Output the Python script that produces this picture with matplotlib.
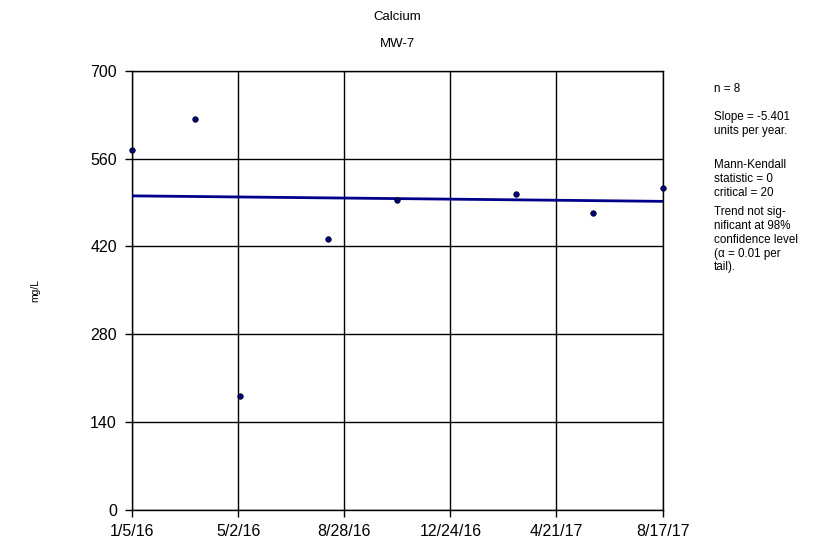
import numpy as np
import pandas as pd
import matplotlib
matplotlib.use("Agg")
import matplotlib.pyplot as plt

# dados
datas = ["2016-01-05", "2016-03-15", "2016-05-04", "2016-08-10",
         "2016-10-26", "2017-03-07", "2017-06-01", "2017-08-17"]
valores = [573.6, 622.6, 181.4, 432.6, 493.3, 503.4, 474.1, 512.9]

ticks_x = ["2016-01-05", "2016-05-02", "2016-08-28", "2016-12-24", "2017-04-21", "2017-08-17"]
rotulos_x = ["1/5/16", "5/2/16", "8/28/16", "12/24/16", "4/21/17", "8/17/17"]
ticks_y = [0, 140, 280, 420, 560, 700]

inclinacao = -5.401   # unidades por ano
intercepto = 500.6    # valor da tendência na primeira data

plt.rcParams["font.family"] = ["Liberation Sans", "DejaVu Sans"]

d = pd.to_datetime(datas)
tx = pd.to_datetime(ticks_x)

fig = plt.figure(figsize=(8.21, 5.42), dpi=100)
ax = fig.add_axes([0.1611, 0.0585, 0.6459, 0.8112])

# linha de tendência (Sen)
anos = (d - d[0]).days / 365.25
tendencia = intercepto + inclinacao * np.array([anos[0], anos[-1]])
ax.plot([d[0], d[-1]], tendencia, color="#00008B", linewidth=2, zorder=3)

ax.scatter(d, valores, s=16, color="#000080", edgecolor="black", linewidth=0.5, zorder=4, clip_on=False)

ax.set_xlim(tx[0], tx[-1])
ax.set_ylim(0, 700)
ax.set_xticks(tx)
ax.set_xticklabels(rotulos_x)
ax.set_yticks(ticks_y)
ax.tick_params(axis="both", labelsize=11.5, length=5, width=1, color="black", direction="out")
ax.tick_params(axis="y", pad=6)
ax.tick_params(axis="x", pad=5)
ax.grid(True, color="black", linewidth=1)
for s in ax.spines.values():
    s.set_linewidth(1)
    s.set_color("black")

fig.text(397 / 821, 1 - 17 / 542, "Calcium", ha="center", va="center", fontsize=9.5)
fig.text(397 / 821, 1 - 44 / 542, "MW-7", ha="center", va="center", fontsize=9.5)
fig.text(35 / 821, 1 - 290 / 542, "mg/L", rotation=90, ha="center", va="center", fontsize=7.5)

# bloco de texto à direita
linhas = [
    (89, "n = 8"),
    (117, "Slope = -5.401"),
    (131, "units per year."),
    (165, "Mann-Kendall"),
    (179, "statistic = 0"),
    (193, "critical = 20"),
    (212, "Trend not sig-"),
    (226, "nificant at 98%"),
    (240, "confidence level"),
    (254, "(α = 0.01 per"),
    (267, "tail)."),
]
for y, txt in linhas:
    fig.text(714 / 821, 1 - y / 542, txt, ha="left", va="center", fontsize=8.4)

fig.savefig("out.png", dpi=100)
